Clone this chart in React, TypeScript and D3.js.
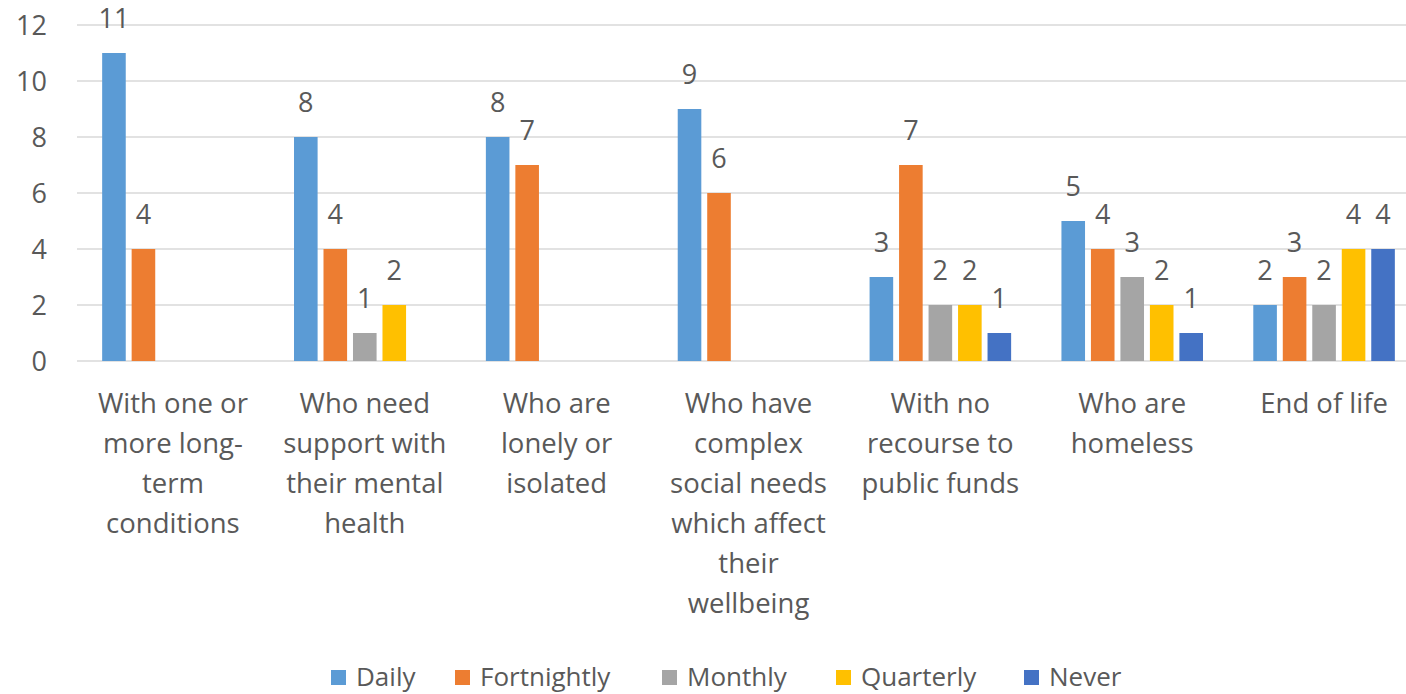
import React from "react";
import * as d3 from "d3";

const categories = [
  "With one or more long-term conditions",
  "Who need support with their mental health",
  "Who are lonely or isolated",
  "Who have complex social needs which affect their wellbeing",
  "With no recourse to public funds",
  "Who are homeless",
  "End of life",
];
const categoryLines = [
  ["With one or", "more long-", "term", "conditions"],
  ["Who need", "support with", "their mental", "health"],
  ["Who are", "lonely or", "isolated"],
  ["Who have", "complex", "social needs", "which affect", "their", "wellbeing"],
  ["With no", "recourse to", "public funds"],
  ["Who are", "homeless"],
  ["End of life"],
];
const seriesNames = ["Daily", "Fortnightly", "Monthly", "Quarterly", "Never"];
const seriesColors = ["#5B9BD5", "#ED7D31", "#A5A5A5", "#FFC000", "#4472C4"];
const daily = [11, 8, 8, 9, 3, 5, 2];
const fortnightly = [4, 4, 7, 6, 7, 4, 3];
const monthly = [null, 1, null, null, 2, 3, 2];
const quarterly = [null, 2, null, null, 2, 2, 4];
const never = [null, null, null, null, 1, 1, 4];
const yTicks = [0, 2, 4, 6, 8, 10, 12];

const seriesValues: (number | null)[][] = [daily, fortnightly, monthly, quarterly, never];

const W = 1406;
const H = 694;
const FONT = "'Open Sans', sans-serif";
const TEXT = "#595959";

export default function App() {
  const x0 = d3.scaleBand<string>().domain(categories).range([77, 1420]).paddingInner(0).paddingOuter(0);
  const x1 = d3
    .scaleBand<string>()
    .domain(seriesNames)
    .range([0, x0.bandwidth()])
    .paddingInner(0.2)
    .paddingOuter(0.853);
  const y = d3.scaleLinear().domain([0, 12]).range([361, 25]);

  // legend layout
  const legendWidths = [63, 146, 113, 127, 78];
  const sq = 15;
  const gapSqText = 10;
  const gapItems = 36;
  let lx = 331;
  const legendItems = seriesNames.map((n, i) => {
    const item = { name: n, color: seriesColors[i], x: lx };
    lx += sq + gapSqText + legendWidths[i] + gapItems;
    return item;
  });

  return (
    <svg width={W} height={H} style={{ position: "absolute", left: 0, top: 0, background: "#fff" }} fontFamily={FONT}>
      <rect x={0} y={0} width={W} height={H} fill="#fff" />
      {yTicks.map((t) => (
        <g key={t}>
          <line x1={77} x2={W} y1={y(t)} y2={y(t)} stroke="#D9D9D9" strokeWidth={1.5} />
          <text x={47} y={y(t) + 10} textAnchor="end" fontSize={27} fill={TEXT}>
            {t}
          </text>
        </g>
      ))}
      {categories.map((c, ci) => (
        <g key={c} transform={`translate(${x0(c)},0)`}>
          {seriesNames.map((s, si) => {
            const v = seriesValues[si][ci];
            if (v == null) return null;
            const bx = x1(s)!;
            return (
              <g key={s}>
                <rect x={bx} y={y(v)} width={x1.bandwidth()} height={y(0) - y(v)} fill={seriesColors[si]} />
                <text
                  x={bx + x1.bandwidth() / 2}
                  y={y(v) - 25}
                  textAnchor="middle"
                  fontSize={27}
                  fill={TEXT}
                >
                  {v}
                </text>
              </g>
            );
          })}
          {categoryLines[ci].map((line, li) => (
            <text
              key={li}
              x={x0.bandwidth() / 2}
              y={413 + li * 40}
              textAnchor="middle"
              fontSize={27.5}
              fill={TEXT}
            >
              {line}
            </text>
          ))}
        </g>
      ))}
      {legendItems.map((it) => (
        <g key={it.name}>
          <rect x={it.x} y={670} width={sq} height={sq} fill={it.color} />
          <text x={it.x + sq + gapSqText} y={686} fontSize={26} fill={TEXT}>
            {it.name}
          </text>
        </g>
      ))}
    </svg>
  );
}
